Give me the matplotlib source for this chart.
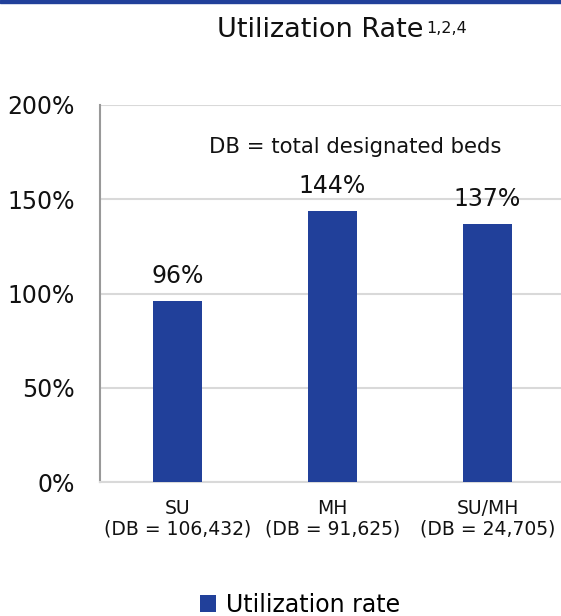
import matplotlib
matplotlib.use('Agg')
import matplotlib.pyplot as plt
from matplotlib.patches import Rectangle

# chart data
categories = ['SU\n(DB = 106,432)', 'MH\n(DB = 91,625)', 'SU/MH\n(DB = 24,705)']
rates = [96, 144, 137]
y_ticks = [0, 50, 100, 150, 200]
series_name = 'Utilization rate'

bar_color = '#21409a'
grid_color = '#d9d9d9'
text_color = '#111111'

plt.rcParams['font.family'] = ['DejaVu Sans']

fig = plt.figure(figsize=(5.61, 6.16), dpi=100)
ax = fig.add_axes([100 / 561, 1 - 482 / 616, 465 / 561, 377 / 616])

x = range(len(categories))
ax.bar(x, rates, width=0.31, color=bar_color, label=series_name, zorder=3)

# value labels above bars
for xi, v in zip(x, rates):
    ax.annotate(f'{v}%', (xi, v), xytext=(0, 13), textcoords='offset points',
                ha='center', va='baseline', fontsize=17, color=text_color)

ax.set_xlim(-0.5, 2.5)
ax.set_ylim(0, 200)
ax.set_yticks(y_ticks)
ax.set_yticklabels([f'{t}%' for t in y_ticks], fontsize=17, color=text_color)
ax.set_xticks(list(x))
ax.set_xticklabels(categories, fontsize=13.5, color=text_color, linespacing=1.15)
ax.tick_params(axis='y', length=0, pad=18)
ax.tick_params(axis='x', length=0, pad=12)

ax.grid(axis='y', color=grid_color, linewidth=1.5, zorder=0)
for s in ['top', 'right']:
    ax.spines[s].set_visible(False)
ax.spines['left'].set_color('#999999')
ax.spines['left'].set_linewidth(1.5)
ax.spines['bottom'].set_color(grid_color)
ax.spines['bottom'].set_linewidth(1.5)

ax.text(1.145, 174.5, 'DB = total designated beds', ha='center', va='baseline',
        fontsize=15.2, color=text_color)

# title with superscript footnote refs
fig.text(217 / 561, 1 - 37 / 616, 'Utilization Rate', ha='left', va='baseline',
         fontsize=19.5, color=text_color)
fig.text(426 / 561, 1 - 33 / 616, '1,2,4', ha='left', va='baseline',
         fontsize=11.5, color=text_color)

# blue rule along the top edge
fig.patches.append(Rectangle((0, 1 - 3 / 616), 1, 3 / 616, transform=fig.transFigure,
                             color=bar_color, zorder=5))

fig.legend(loc='center', bbox_to_anchor=(300 / 561, 1 - 605 / 616), frameon=False,
           fontsize=17, handlelength=0.7, handleheight=0.7, handletextpad=0.4)

plt.savefig('out.png', dpi=100)
plt.close()
